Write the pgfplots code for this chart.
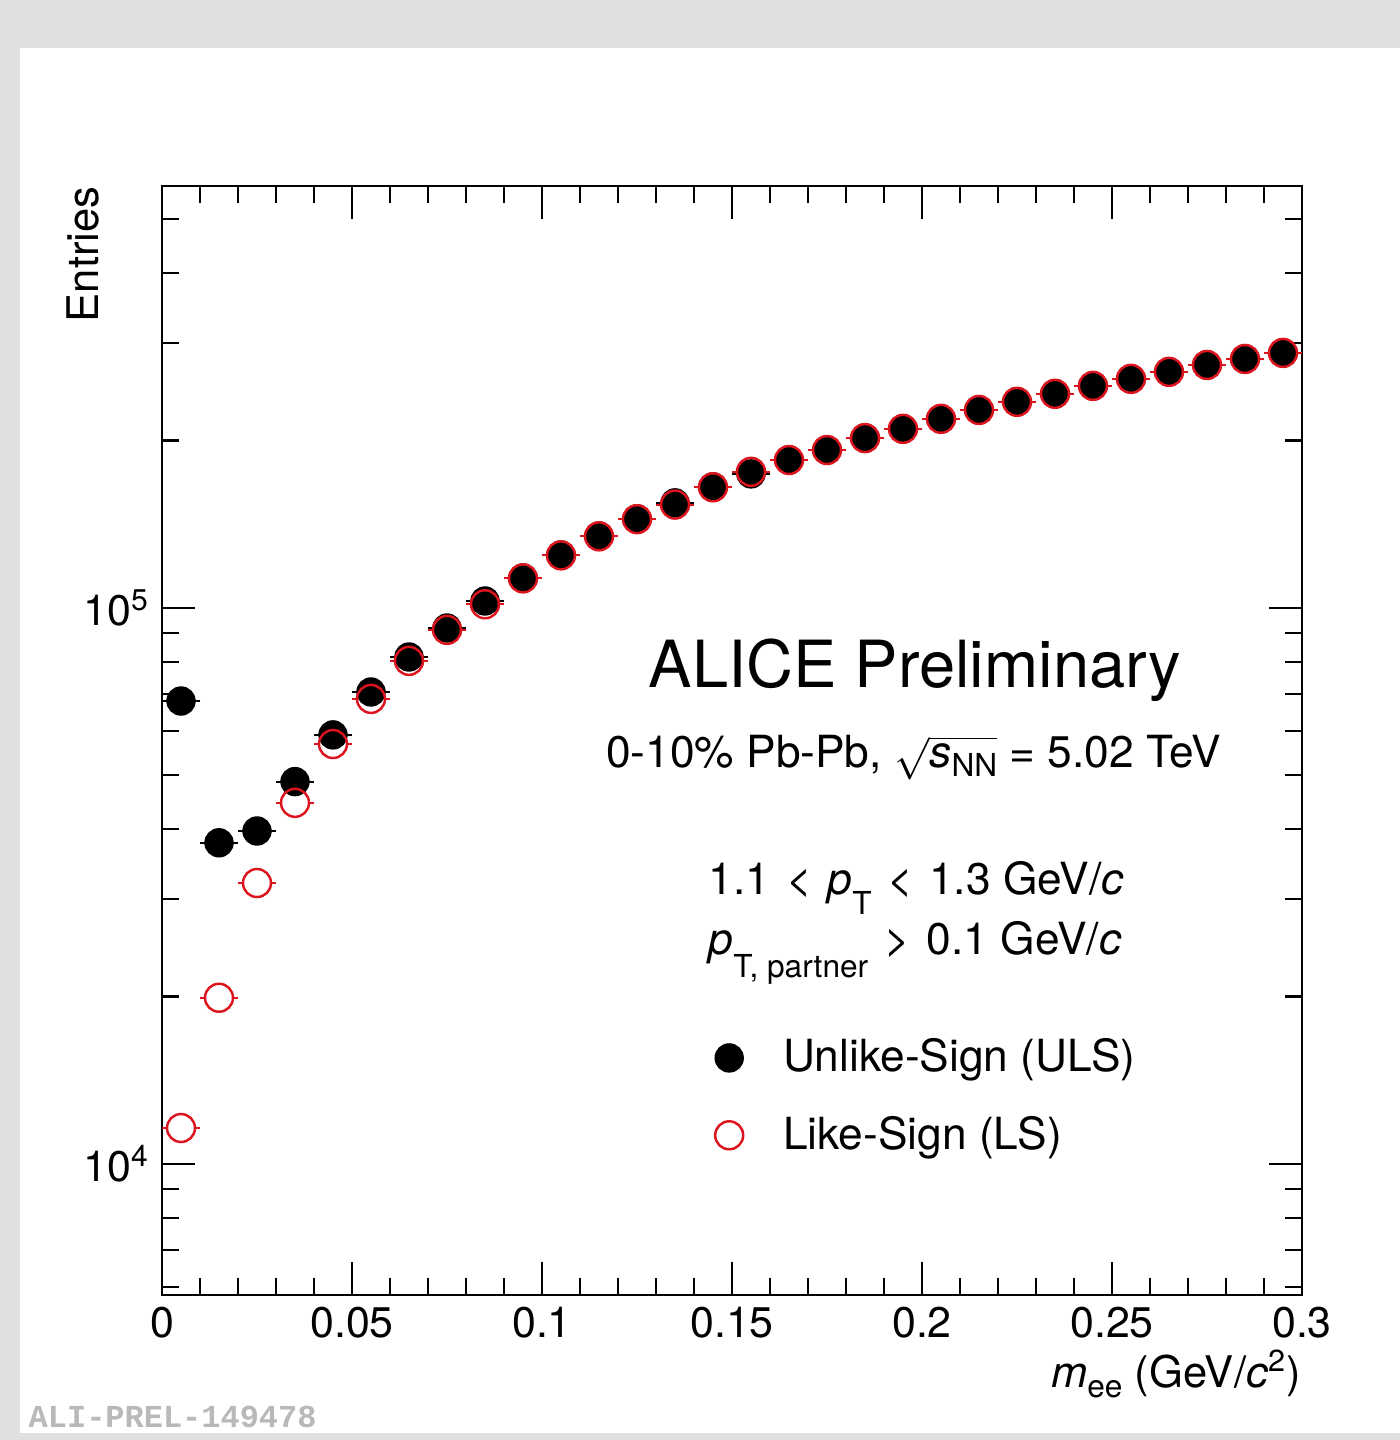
\documentclass[border=0pt]{standalone}
\usepackage{fontspec}
\setmainfont{TeX Gyre Heros}
\newfontfamily\monofont{Liberation Mono}
\usepackage{pgfplots}
\usepackage{pgfplotstable}
\pgfplotsset{compat=1.18}
\definecolor{rootred}{RGB}{220,20,30}
\definecolor{bggray}{RGB}{224,224,224}
\definecolor{prelgray}{RGB}{185,185,185}
% lowered subscript, ROOT style
\newcommand{\lsub}[2]{\raisebox{#1}{\fontsize{9}{9}\selectfont #2}}

% m_ee (GeV/c^2)  vs  entries
\pgfplotstableread{
m      n
0.005  68000
0.015  37800
0.025  39700
0.035  48700
0.045  59100
0.055  70600
0.065  81600
0.075  92000
0.085  102900
0.095  113200
0.105  124500
0.115  134700
0.125  144600
0.135  154500
0.145  165100
0.155  174200
0.165  184600
0.175  192400
0.185  202200
0.195  209900
0.205  218800
0.215  227100
0.225  234800
0.235  242700
0.245  250800
0.255  258200
0.265  265800
0.275  273500
0.285  280400
0.295  287500
}\uls

\pgfplotstableread{
m      n
0.005  11600
0.015  19900
0.025  32000
0.035  44600
0.045  56900
0.055  68600
0.065  80300
0.075  91300
0.085  101500
0.095  113000
0.105  124300
0.115  134500
0.125  144400
0.135  153400
0.145  164800
0.155  175700
0.165  184500
0.175  192300
0.185  202000
0.195  209900
0.205  218800
0.215  227000
0.225  234800
0.235  242700
0.245  250800
0.255  258200
0.265  265800
0.275  273500
0.285  280400
0.295  287500
}\ls

\begin{document}
\begin{tikzpicture}
\path[use as bounding box] (0,0) rectangle (140mm,144mm);
\fill[bggray] (0,0) rectangle (140mm,144mm);
\fill[white] (2mm,0.7mm) rectangle (140mm,139.2mm);

\begin{axis}[
  at={(16.2mm,14.5mm)}, anchor=south west,
  scale only axis, width=114mm, height=110.9mm,
  xmin=0, xmax=0.3,
  ymode=log, ymin=5810, ymax=574000,
  axis line style={line width=0.6pt},
  every tick/.style={black, line width=0.6pt},
  tick align=inside,
  xtick pos=both, ytick pos=both,
  major tick length=3.3mm, minor tick length=1.7mm,
  xtick={0,0.05,0.1,0.15,0.2,0.25,0.3},
  xticklabels={0,0.05,0.1,0.15,0.2,0.25,0.3},
  minor x tick num=4,
  ytick={10000,100000},
  yticklabels={10\textsuperscript{4},10\textsuperscript{5}},
  minor ytick={6000,7000,8000,9000,20000,30000,40000,50000,60000,70000,80000,90000,200000,300000,400000,500000},
  ticklabel style={font=\fontsize{12.2}{14}\selectfont},
  label style={font=\fontsize{12.4}{14}\selectfont},
  xlabel={\textit{m}\lsub{-1mm}{ee} (GeV/\textit{c}\textsuperscript{2})},
  xlabel style={at={(rel axis cs:1,-0.083)}, anchor=base east, inner sep=0pt},
  ylabel={Entries},
  ylabel style={at={(rel axis cs:-0.0544,1)}, anchor=south east, inner sep=0pt},
  legend image code/.code={\draw[mark repeat=2,mark phase=2,#1] plot coordinates {(0mm,0mm)(1.4mm,0mm)(2.8mm,0mm)};},
  legend cell align=left,
  legend style={at={(0.4754,0.238)}, anchor=north west, draw=none, fill=none,
    font=\fontsize{12.6}{14}\selectfont, nodes={inner sep=0pt},
    column sep=4mm, row sep=3.9mm},
  % bars are drawn from the centre outwards: leave the marker free
  error bars/error bar style={line width=0.6pt, dash pattern=on 0mm off 1.4mm on 0.6mm off 5mm},
]
\addplot[only marks, mark=*, mark size=1.4mm, black, fill=black,
  error bars/.cd, x dir=both, x fixed=0.005, error mark=none]
  table[x=m, y=n] {\uls};
\addlegendentry{Unlike-Sign (ULS)}
\addplot[only marks, mark=o, mark size=1.4mm, rootred, line width=0.7pt,
  error bars/.cd, x dir=both, x fixed=0.005, error mark=none]
  table[x=m, y=n] {\ls};
\addlegendentry{Like-Sign (LS)}
\end{axis}

\node[anchor=base, font=\fontsize{18.5}{20}\selectfont, inner sep=0pt] at (91.5mm,75.2mm) {ALICE Preliminary};
\node[anchor=base, font=\fontsize{12.6}{14}\selectfont, inner sep=0pt] at (91.35mm,67.2mm)
  {0-10\% Pb-Pb, $\sqrt{\hbox{\textit{s}\lsub{-0.9mm}{NN}}}$ = 5.02 TeV};
\node[anchor=base west, font=\fontsize{12.6}{14}\selectfont, inner sep=0pt] at (70.8mm,54.5mm)
  {1.1\hspace{0.35mm} < \hspace{0.35mm}\textit{p}\lsub{-2mm}{T}\hspace{0.35mm} < \hspace{0.35mm}1.3 GeV/\textit{c}};
\node[anchor=base west, font=\fontsize{12.6}{14}\selectfont, inner sep=0pt] at (70.8mm,48.5mm)
  {\textit{p}\lsub{-2.3mm}{T, partner}\hspace{0.4mm} > \hspace{0.4mm}0.1 GeV/\textit{c}};
\node[anchor=base west, font=\monofont\bfseries\fontsize{9.1}{10}\selectfont, text=prelgray, inner sep=0pt] at (2.8mm,1.3mm) {ALI-PREL-149478};
\end{tikzpicture}
\end{document}
